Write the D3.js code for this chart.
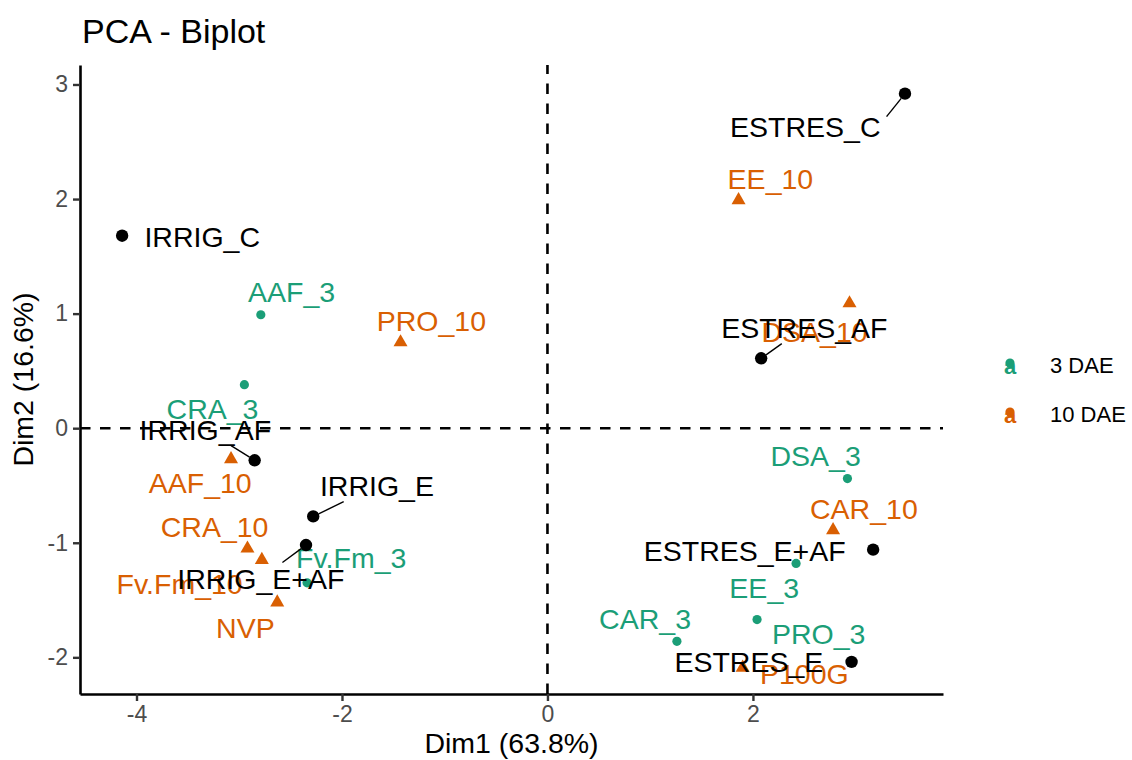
<!DOCTYPE html>
<html>
<head>
<meta charset="utf-8">
<title>PCA - Biplot</title>
<script src="https://d3js.org/d3.v7.min.js"></script>
<style>
  body { margin: 0; background: #fff; }
  text { font-family: "Liberation Sans", Arial, Helvetica, sans-serif; }
</style>
</head>
<body>
<div id="chart"></div>
<script>
// treatments (black points)
var indNames = ["IRRIG_C", "IRRIG_AF", "IRRIG_E", "IRRIG_E+AF", "ESTRES_C", "ESTRES_AF", "ESTRES_E", "ESTRES_E+AF"];
var indDim1 = [-4.14, -2.85, -2.28, -2.35, 3.48, 2.08, 2.96, 3.17];
var indDim2 = [1.68, -0.28, -0.77, -1.02, 2.92, 0.61, -2.04, -1.06];
// where the repelled labels ended up (data units)
var indLabDim1 = [-3.36, -3.33, -1.66, -2.79, 2.51, 2.50, 1.96, 1.92];
var indLabDim2 = [1.675, -0.01, -0.50, -1.31, 2.63, 0.88, -2.04, -1.07];
var indLeaders = ["IRRIG_AF", "IRRIG_E", "IRRIG_E+AF", "ESTRES_C", "ESTRES_AF"];

// 3 DAE
var dae3Names = ["AAF_3", "CRA_3", "Fv.Fm_3", "DSA_3", "EE_3", "PRO_3", "CAR_3"];
var dae3Dim1 = [-2.79, -2.95, -2.34, 2.92, 2.42, 2.04, 1.26];
var dae3Dim2 = [0.99, 0.38, -1.35, -0.44, -1.18, -1.67, -1.86];
var dae3LabDim1 = [-2.49, -3.26, -1.91, 2.61, 2.11, 2.64, 0.95];
var dae3LabDim2 = [1.19, 0.17, -1.13, -0.24, -1.39, -1.79, -1.66];

// 10 DAE
var dae10Names = ["PRO_10", "AAF_10", "CRA_10", "Fv.Fm_10", "NVP", "EE_10", "DSA_10", "CAR_10", "P100G"];
var dae10Dim1 = [-1.43, -3.08, -2.92, -2.78, -2.63, 1.86, 2.94, 2.78, 1.90];
var dae10Dim2 = [0.75, -0.27, -1.05, -1.15, -1.52, 1.99, 1.09, -0.89, -2.09];
var dae10LabDim1 = [-1.13, -3.38, -3.24, -3.58, -2.94, 2.17, 2.60, 3.08, 2.50];
var dae10LabDim2 = [0.94, -0.48, -0.86, -1.36, -1.74, 2.18, 0.84, -0.70, -2.14];

var xTicks = [-4, -2, 0, 2];
var yTicks = [-2, -1, 0, 1, 2, 3];
var groups = ["3 DAE", "10 DAE"];

var green = "#1B9E77", orange = "#D95F02";

var width = 1132, height = 760;
var margin = {top: 65, right: 189, bottom: 66, left: 80};

var svg = d3.select("#chart").append("svg")
    .attr("width", width)
    .attr("height", height);

var x = d3.scaleLinear()
    .domain([-4.55, 3.85])
    .range([margin.left, width - margin.right]);
var y = d3.scaleLinear()
    .domain([-2.32, 3.17])
    .range([height - margin.bottom, margin.top]);

// title
svg.append("text")
    .attr("x", 82)
    .attr("y", 43)
    .style("font-size", "34px")
    .text("PCA - Biplot");

// axes (plain hyphen for negatives, like R)
var fmt = function(d) { return String(d); };
var xAxis = svg.append("g")
    .attr("transform", "translate(0," + y.range()[0] + ")")
    .call(d3.axisBottom(x).tickValues(xTicks).tickFormat(fmt).tickSize(7).tickSizeOuter(0).tickPadding(5));
var yAxis = svg.append("g")
    .attr("transform", "translate(" + x.range()[0] + ",0)")
    .call(d3.axisLeft(y).tickValues(yTicks).tickFormat(fmt).tickSize(7).tickSizeOuter(0).tickPadding(5));

[xAxis, yAxis].forEach(function(g) {
  g.select(".domain").attr("stroke", "#000").attr("stroke-width", 2.6);
  g.selectAll(".tick line").attr("stroke", "#333").attr("stroke-width", 2.4);
  g.selectAll(".tick text")
      .attr("fill", "#4D4D4D")
      .style("font-size", "23px")
      .style("font-family", "'Liberation Sans', Arial, sans-serif");
});

svg.append("text")
    .attr("x", (x.range()[0] + x.range()[1]) / 2)
    .attr("y", 753)
    .attr("text-anchor", "middle")
    .style("font-size", "28.5px")
    .text("Dim1 (63.8%)");
svg.append("text")
    .attr("transform", "translate(33," + (y.range()[0] + y.range()[1]) / 2 + ") rotate(-90)")
    .attr("text-anchor", "middle")
    .style("font-size", "28.5px")
    .text("Dim2 (16.6%)");

// reference lines
svg.append("line")
    .attr("x1", x.range()[0]).attr("x2", x.range()[1])
    .attr("y1", y(0)).attr("y2", y(0))
    .attr("stroke", "#000").attr("stroke-width", 2.6)
    .attr("stroke-dasharray", "10.5,9.5");
svg.append("line")
    .attr("x1", x(0)).attr("x2", x(0))
    .attr("y1", y.range()[0]).attr("y2", y.range()[1])
    .attr("stroke", "#000").attr("stroke-width", 2.6)
    .attr("stroke-dasharray", "10.5,9.5");

var labelSize = 28.5;

function addLabels(names, lx, ly, color) {
  return svg.append("g").selectAll("text")
    .data(names)
    .enter()
    .append("text")
      .attr("x", function(d, i) { return x(lx[i]); })
      .attr("y", function(d, i) { return y(ly[i]); })
      .attr("dy", "0.36em")
      .attr("text-anchor", "middle")
      .attr("fill", color)
      .style("font-size", labelSize + "px")
      .text(function(d) { return d; });
}

// 3 DAE points
svg.append("g").selectAll("circle")
    .data(dae3Names)
    .enter()
    .append("circle")
      .attr("cx", function(d, i) { return x(dae3Dim1[i]); })
      .attr("cy", function(d, i) { return y(dae3Dim2[i]); })
      .attr("r", 4.6)
      .attr("fill", green);

// 10 DAE triangles
svg.append("g").selectAll("path")
    .data(dae10Names)
    .enter()
    .append("path")
      .attr("d", d3.symbol().type(d3.symbolTriangle).size(85))
      .attr("transform", function(d, i) {
        return "translate(" + x(dae10Dim1[i]) + "," + y(dae10Dim2[i]) + ")";
      })
      .attr("fill", orange);

addLabels(dae3Names, dae3LabDim1, dae3LabDim2, green);
addLabels(dae10Names, dae10LabDim1, dae10LabDim2, orange);

// treatments
svg.append("g").selectAll("circle")
    .data(indNames)
    .enter()
    .append("circle")
      .attr("cx", function(d, i) { return x(indDim1[i]); })
      .attr("cy", function(d, i) { return y(indDim2[i]); })
      .attr("r", 6.2)
      .attr("fill", "#000");

var indLabels = addLabels(indNames, indLabDim1, indLabDim2, "#000");

// leader segments, roughly like ggrepel: from the label box toward the point
var segG = svg.append("g");
indLabels.each(function(d, i) {
  if (indLeaders.indexOf(d) < 0) return;
  var b = this.getBBox();
  var cx = b.x + b.width / 2, cy = b.y + b.height / 2;
  var px = x(indDim1[i]), py = y(indDim2[i]);
  var sx, sy;
  if (px > b.x + b.width + 10 || px < b.x - 10) {
    // point well to the side: attach to the nearest spot of the cap box
    var base = y(indLabDim2[i]) + 0.36 * labelSize;
    var top = base - 0.72 * labelSize;
    sx = px > cx ? b.x + b.width + 6 : b.x - 6;
    sy = Math.max(top, Math.min(base, py));
  } else {
    var dx0 = px - cx, dy0 = py - cy;
    var tx = dx0 !== 0 ? (b.width / 2) / Math.abs(dx0) : Infinity;
    var ty = dy0 !== 0 ? (b.height / 2) / Math.abs(dy0) : Infinity;
    var t = Math.min(tx, ty);
    sx = cx + t * dx0; sy = cy + t * dy0;
  }
  var dx = px - sx, dy = py - sy;
  var len = Math.sqrt(dx * dx + dy * dy);
  var ex = px - dx / len * 6, ey = py - dy / len * 6;
  segG.append("line")
      .attr("x1", sx).attr("y1", sy)
      .attr("x2", ex).attr("y2", ey)
      .attr("stroke", "#000")
      .attr("stroke-width", 1.4);
});

// legend
var legend = svg.append("g")
    .selectAll("g")
    .data(groups)
    .enter()
    .append("g")
      .attr("transform", function(d, i) { return "translate(1010," + (365 + i * 49) + ")"; });
legend.append("text")
    .attr("y", 9)
    .attr("text-anchor", "middle")
    .attr("fill", function(d, i) { return i === 0 ? green : orange; })
    .style("font-size", "22px")
    .style("font-weight", "bold")
    .text("a");
legend.append("circle")
    .attr("cy", -2)
    .attr("r", 4.6)
    .attr("fill", function(d, i) { return i === 0 ? green : orange; });
legend.append("text")
    .attr("x", 40)
    .attr("dy", "0.36em")
    .style("font-size", "22px")
    .text(function(d) { return d; });
</script>
</body>
</html>
